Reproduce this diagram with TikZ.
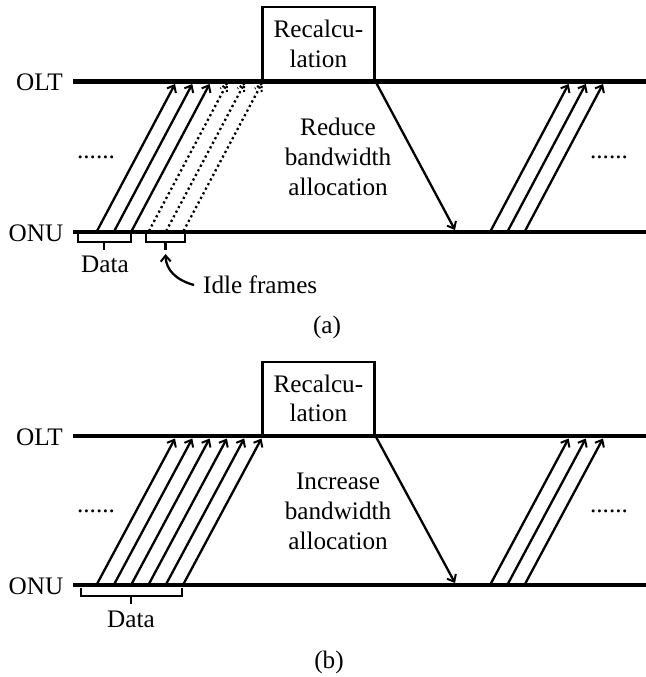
\documentclass[tikz,border=0pt]{standalone}
\usepackage{fontspec}
\setmainfont{Liberation Serif}
\usetikzlibrary{arrows.meta,calc}
\begin{document}
\begin{tikzpicture}[x={(1bp,0)}, y={(0,-1bp)},
  font=\fontsize{25.3}{30}\selectfont,
  axis/.style={line width=4.4bp, line cap=butt},
  thinline/.style={line width=2.3bp},
  msg/.style={thinline, -{Straight Barb[length=6bp,width=10bp,line width=2bp]}},
  idleline/.style={thinline, dash pattern=on 2.2bp off 3bp},
  idlebarb/.style={line width=2bp, dash pattern=on 2bp off 1.8bp},
  procbox/.style={draw, line width=2.2bp, minimum width=112bp, minimum height=73bp,
    inner sep=0pt, align=center, anchor=south west},
  lbl/.style={inner sep=0pt, anchor=base},
  brace/.style={thinline, line cap=butt}]
\useasboundingbox (0,0) rectangle (646,677);

% ---------- panel (a): reduce ----------
\coordinate (aOLTl) at (73,81.5);  \coordinate (aOLTr) at (646,81.5);
\coordinate (aONUl) at (73,232);   \coordinate (aONUr) at (646,232);
\draw[axis] (aOLTl) -- (aOLTr);
\draw[axis] (aONUl) -- (aONUr);
\node[lbl, anchor=base east] (aOLT) at (63,90.5) {OLT};
\node[lbl, anchor=base east] (aONU) at (63.5,241) {ONU};
\node[procbox] (aBox) at (261.3,81.5) {Recalcu-\\lation};
\node[lbl] (aDotsL) at (96,158.5) {......};
\node[lbl] (aDotsR) at (609,158.5) {......};
\node[align=center, inner sep=0pt] (aTxt) at (338,157) {Reduce\\bandwidth\\allocation};

% data frames (solid)
\foreach \i in {0,1,2} {
  \coordinate (aS\i) at ({97+17.3*\i},231);
  \coordinate (aE\i) at ({175+17.3*\i},84);
  \draw[msg] (aS\i) -- (aE\i);
}
% idle frames (dotted, with dotted barbs)
\foreach \i in {3,4,5} {
  \coordinate (aS\i) at ({97+17.3*\i},231);
  \coordinate (aE\i) at ({175+17.3*\i},84);
  \draw[idleline] (aS\i) -- (aE\i);
  \draw[idlebarb] ($(aE\i)!8bp!28:(aS\i)$) -- (aE\i) -- ($(aE\i)!8bp!-28:(aS\i)$);
}
% grant message and next cycle
\coordinate (aDn) at (455,230);
\draw[msg] (aBox.south east) -- (aDn);
\foreach \i in {0,1,2} {
  \coordinate (aR\i) at ({490.6+17.2*\i},231);
  \coordinate (aQ\i) at ({568.6+17.2*\i},84);
  \draw[msg] (aR\i) -- (aQ\i);
}
% braces
\draw[brace] (78,234) -- (78,242) -- (130.7,242) -- (130.7,234);
\draw[brace] (104.3,242) -- (104.3,250);
\node[lbl] (aData) at (105,272) {Data};
\draw[brace] (146,234) -- (146,242) -- (185,242) -- (185,234);
\draw[brace] (165.5,242) -- (165.5,250);
\node[lbl, anchor=base west] (aIdle) at (203,293) {Idle frames};
\coordinate (aIdleFrom) at (194,285);
\coordinate (aIdleTo) at (165.5,254);
\draw[msg] (aIdleFrom) .. controls (176,280) and (166,270) .. (aIdleTo);
\node[lbl] (aCap) at (327,333.5) {(a)};

% ---------- panel (b): increase ----------
\coordinate (bOLTl) at (73,436);  \coordinate (bOLTr) at (646,436);
\coordinate (bONUl) at (73,585);  \coordinate (bONUr) at (646,585);
\draw[axis] (bOLTl) -- (bOLTr);
\draw[axis] (bONUl) -- (bONUr);
\node[lbl, anchor=base east] (bOLT) at (63,445) {OLT};
\node[lbl, anchor=base east] (bONU) at (63.5,594) {ONU};
\node[procbox] (bBox) at (261.3,436) {Recalcu-\\lation};
\node[lbl] (bDotsL) at (96,512) {......};
\node[lbl] (bDotsR) at (609,512) {......};
\node[align=center, inner sep=0pt] (bTxt) at (338,511.5) {Increase\\bandwidth\\allocation};

\foreach \i in {0,...,5} {
  \coordinate (bS\i) at ({97+17.3*\i},584);
  \coordinate (bE\i) at ({175+17.3*\i},438.5);
  \draw[msg] (bS\i) -- (bE\i);
}
\coordinate (bDn) at (455,583);
\draw[msg] (bBox.south east) -- (bDn);
\foreach \i in {0,1,2} {
  \coordinate (bR\i) at ({490.6+17.2*\i},584);
  \coordinate (bQ\i) at ({568.6+17.2*\i},438.5);
  \draw[msg] (bR\i) -- (bQ\i);
}
\draw[brace] (81,587.5) -- (81,596) -- (181.7,596) -- (181.7,587.5);
\draw[brace] (131,596) -- (131,604);
\node[lbl] (bData) at (131,627) {Data};
\node[lbl] (bCap) at (329,668) {(b)};
\end{tikzpicture}
\end{document}
